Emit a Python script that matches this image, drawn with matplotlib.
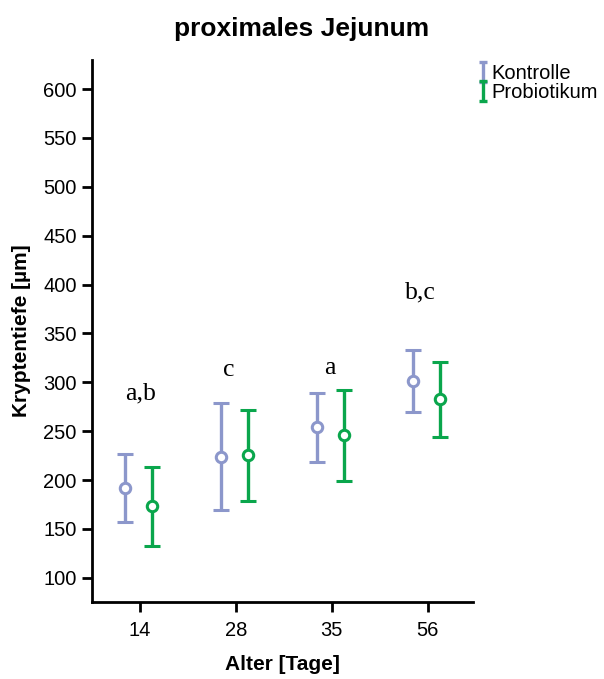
import numpy as np
import matplotlib
matplotlib.use("Agg")
import matplotlib.pyplot as plt

# Kryptentiefe im proximalen Jejunum, Mittelwert mit oberer/unterer Fehlergrenze
ages = ["14", "28", "35", "56"]
kontrolle_mean = [192, 224, 254, 301]
kontrolle_hi = [227, 279, 289, 333]
kontrolle_lo = [157, 169, 218, 270]
probiotikum_mean = [173, 226, 246, 283]
probiotikum_hi = [213, 272, 292, 321]
probiotikum_lo = [133, 179, 199, 244]
letters = ["a,b", "c", "a", "b,c"]
letter_y = [289, 313, 315, 392]

BLUE = "#8c97cb"
GREEN = "#0aa64c"

plt.rcParams["font.family"] = ["Liberation Sans", "DejaVu Sans"]

fig = plt.figure(figsize=(6.04, 6.79), dpi=100)
ax = fig.add_axes([0.152, 0.113, 0.631, 0.799])

x = np.arange(len(ages))
series = [
    ("Kontrolle", -0.15, kontrolle_mean, kontrolle_lo, kontrolle_hi, BLUE),
    ("Probiotikum", 0.13, probiotikum_mean, probiotikum_lo, probiotikum_hi, GREEN),
]
for name, dx, m, lo, hi, col in series:
    m = np.array(m); lo = np.array(lo); hi = np.array(hi)
    ax.errorbar(x + dx, m, yerr=[m - lo, hi - m], fmt="o", color=col, mfc="white",
                mec=col, ms=7.5, mew=2.2, elinewidth=2.4, capsize=5.5, capthick=2.4, zorder=3)

# Signifikanzbuchstaben, leicht versetzt über den Gruppen
letter_dx = [0.01, -0.07, -0.02, -0.08]
for xi, dx, txt, ty in zip(x, letter_dx, letters, letter_y):
    ax.text(xi + dx, ty, txt, ha="center", va="center", fontsize=18.5,
            family=["Liberation Serif", "DejaVu Serif"])

ax.set_xlim(-0.5, 3.47)
ax.set_ylim(75, 630)
ax.set_xticks(x)
ax.set_xticklabels(ages)
ax.set_yticks(np.arange(100, 601, 50))
ax.tick_params(labelsize=14.5, width=2, length=7, direction="out")
ax.tick_params(axis="x", pad=6.5)
ax.tick_params(axis="y", pad=4)
for s in ["top", "right"]:
    ax.spines[s].set_visible(False)
for s in ["left", "bottom"]:
    ax.spines[s].set_linewidth(2)

ax.set_xlabel("Alter [Tage]", fontsize=15, fontweight="bold", labelpad=11)
ax.set_ylabel("Kryptentiefe [µm]", fontsize=15, fontweight="bold", labelpad=9)
fig.suptitle("proximales Jejunum", fontsize=19, fontweight="bold", x=0.5, y=0.975)

# legend handles: bare error-bar symbols without the point marker
handles = []
for name, dx, m, lo, hi, col in series:
    h = ax.errorbar([np.nan], [np.nan], yerr=[[1], [1]], fmt="none", ecolor=col,
                    elinewidth=2.4, capsize=3, capthick=2.4, label=name)
    handles.append(h)
fig.legend(handles=handles, labels=[s[0] for s in series], loc="upper left",
           bbox_to_anchor=(0.778, 0.917), frameon=False, fontsize=14.5,
           handlelength=0.5, handletextpad=0.15, labelspacing=0.0, borderaxespad=0)

fig.savefig("out.png", dpi=100)
